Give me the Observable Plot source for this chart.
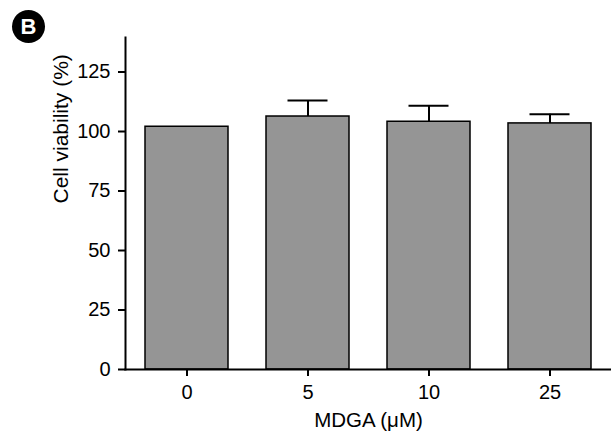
<!DOCTYPE html>
<html>
<head>
<meta charset="utf-8">
<script src="https://cdn.jsdelivr.net/npm/d3@7"></script>
<script src="https://cdn.jsdelivr.net/npm/@observablehq/plot@0.6"></script>
<style>
  html, body { margin: 0; padding: 0; background: #fff; }
  #wrap { position: relative; width: 611px; height: 439px; }
  #badge { position: absolute; left: 12px; top: 10px; width: 33px; height: 33px; border-radius: 50%; background: #000; color: #fff;
    font: bold 22px "Liberation Sans", Arial, sans-serif; display: flex; align-items: center; justify-content: center; }
</style>
</head>
<body>
<div id="wrap"><div id="badge">B</div></div>
<script>
const doses = ["0", "5", "10", "25"];
const viability = [102, 106.3, 104.1, 103.4];
const errorUpper = [0, 6.7, 6.7, 3.9];
const yTicks = [0, 25, 50, 75, 100, 125];

const data = doses.map((d, i) => ({dose: d, v: viability[i], top: viability[i] + errorUpper[i]}));
const errData = data.filter(d => d.top > d.v);

const font = '"Liberation Sans", Arial, sans-serif';
const chart = Plot.plot({
  width: 611,
  height: 439,
  marginLeft: 125,
  marginRight: 0,
  marginTop: 37,
  marginBottom: 70,
  style: {fontFamily: font, fontSize: "20px", color: "#000", background: "#fff"},
  x: {domain: doses, paddingInner: 0.313, paddingOuter: 0.1565, label: null},
  y: {domain: [0, 139.5], label: null},
  marks: [
    Plot.barY(data, {x: "dose", y: "v", fill: "#959595", stroke: "#000", strokeWidth: 1.5}),
    Plot.ruleX(errData, {x: "dose", y1: "v", y2: "top", stroke: "#000", strokeWidth: 2}),
    Plot.tickY(errData, {x: "dose", y: "top", stroke: "#000", strokeWidth: 2, inset: 21.5}),
    Plot.axisY({ticks: yTicks, tickSize: 7, tickPadding: 8, tickFormat: d => String(d), fontSize: 20, strokeWidth: 2, label: null}),
    Plot.axisX({tickSize: 7, tickPadding: 8, fontSize: 20, strokeWidth: 2, label: null}),
    Plot.frame({anchor: "left", stroke: "#000", strokeWidth: 2}),
    Plot.frame({anchor: "bottom", stroke: "#000", strokeWidth: 2}),
    Plot.text(["MDGA (\u03bcM)"], {frameAnchor: "bottom", dy: 57, fontSize: 20.5, fill: "#000"}),
    Plot.text(["Cell viability (%)"], {frameAnchor: "left", dx: -64, rotate: -90, fontSize: 21, fill: "#000"})
  ]
});
document.getElementById("wrap").appendChild(chart);
</script>
</body>
</html>
